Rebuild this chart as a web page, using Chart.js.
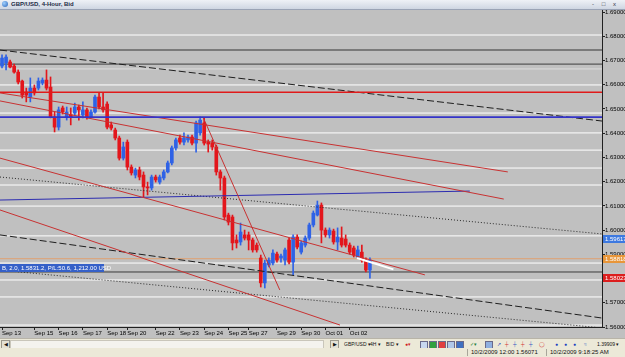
<!DOCTYPE html>
<html>
<head>
<meta charset="utf-8">
<script src="https://cdn.jsdelivr.net/npm/chart.js@4.4.0/dist/chart.umd.min.js"></script>
<style>
  html, body { margin:0; padding:0; width:625px; height:357px; overflow:hidden; background:#d4d0c8;
    font-family:"Liberation Sans", Arial, sans-serif; }
  #title { position:absolute; left:0; top:0; width:625px; height:9px;
    background:linear-gradient(#eef1f6,#cfd6e2); border-bottom:1px solid #9aa3b5;
    font-size:6px; line-height:9px; color:#1b2a44; font-weight:bold; }
  #title .ico { position:absolute; left:2px; top:1px; width:6px; height:6px; border-radius:3px;
    background:radial-gradient(circle at 35% 35%, #9fd0ff, #2a64b8); }
  #title .txt { position:absolute; left:11px; top:0; }
  #title .btns { position:absolute; right:6px; top:0; font-weight:normal; color:#334; letter-spacing:3px; }
  #wrap { position:absolute; left:0; top:10px; width:625px; height:328px; }
  #toolbar { position:absolute; left:0; top:338px; width:625px; height:10px; background:#ece9d8;
    border-top:1px solid #b8b4a8; font-size:5px; line-height:10px; color:#111; }
  #toolbar span { position:absolute; top:0; }
  .track { position:absolute; left:10px; top:1px; width:312px; height:7px; background:#f4f3ee; border:1px solid #c9c6ba; }
  .sbtn { position:absolute; top:1px; width:7px; height:7px; background:#e4e1d4; border:1px solid #9c998c; font-size:5px; line-height:7px; text-align:center; }
  .ic { position:absolute; top:2px; width:6px; height:6px; border:1px solid #6a6a8a; }
  #status { position:absolute; left:0; top:348px; width:625px; height:9px; background:#ece9d8;
    font-size:6px; line-height:9px; color:#111; }
  #status span { position:absolute; top:0; }
  .sep { position:absolute; top:1px; width:1px; height:7px; background:#a9a69a; }
</style>
</head>
<body>
<div id="title"><div class="ico"></div><span class="txt">GBP/USD, 4-Hour, Bid</span><span class="btns">- &#9633; x</span></div>
<div id="wrap"><canvas id="chart" width="625" height="328"></canvas></div>
<div id="toolbar">
  <div class="sbtn" style="left:1px">&#9664;</div>
  <div class="track"></div>
  <div class="sbtn" style="left:330px">&#9654;</div>
  <span style="left:344px">GBP/USD &#9662;</span>
  <span style="left:370px">4H &#9662;</span>
  <span style="left:386px">BID &#9662;</span>
  <span style="left:405px;color:#d02020">&#9679;&#9662;</span>
  <div class="ic" style="left:420px;background:#c8d8f0"></div>
  <div class="ic" style="left:429px;background:#30a040"></div>
  <div class="ic" style="left:438px;background:#e04040"></div>
  <div class="ic" style="left:447px;background:#b0c8e8"></div>
  <div class="ic" style="left:456px;background:#4070c0"></div>
  <span style="left:470px;color:#208040">&#10003;&#9662;</span>
  <div class="ic" style="left:485px;background:#90b0e0"></div>
  <span style="left:497px;color:#3050c0">&#8599;</span>
  <span style="left:505px;color:#d03030">&#9532;</span>
  <span style="left:513px;color:#3050c0">&#9532;</span>
  <span style="left:521px;color:#d03030">&#9532;</span>
  <span style="left:529px;color:#3050c0">&#9532;</span>
  <span style="left:539px;color:#d03030">&#9711;</span>
  <span style="left:555px;color:#2040c0">&#9679;</span>
  <span style="left:564px;color:#2040c0">&#9679;</span>
  <span style="left:573px;color:#2040c0">&#9679;</span>
  <span style="left:584px;color:#3060c0">&#8776;</span>
  <span style="left:597px">1.39909 &#9662;</span>
</div>
<div id="status">
  <div class="sep" style="left:467px"></div>
  <span style="left:471px">10/2/2009 12:00 1.56071</span>
  <div class="sep" style="left:546px"></div>
  <span style="left:550px">10/2/2009 9:18:25 AM</span>
</div>
<script>
// ---- candle data (GBP/USD 4H, Sep 13 - Oct 02 2009) ----
const opens  = [1.6677,1.6690,1.6694,1.6677,1.6652,1.6615,1.6570,1.6549,1.6586,1.6586,
                1.6607,1.6619,1.6590,1.6467,1.6425,1.6504,1.6467,1.6475,1.6483,1.6508,
                1.6475,1.6496,1.6467,1.6487,1.6549,1.6508,1.6520,1.6434,1.6413,1.6380,
                1.6297,1.6363,1.6260,1.6227,1.6248,1.6227,1.6178,1.6174,1.6219,1.6198,
                1.6215,1.6240,1.6277,1.6339,1.6380,1.6363,1.6372,1.6384,1.6359,1.6401,
                1.6442,1.6363,1.6359,1.6343,1.6240,1.6215,1.6062,1.6054,1.5959,1.5951,
                1.5980,1.5980,1.5959,1.5938,1.5885,1.5782,1.5856,1.5864,1.5901,1.5885,
                1.5876,1.5959,1.5868,1.5971,1.5909,1.5938,1.5967,1.6021,1.6062,1.6103,
                1.6000,1.5980,1.5996,1.5951,1.5967,1.5963,1.5938,1.5926,1.5889,1.5909,
                1.5876,1.5835];
const highs  = [1.6723,1.6723,1.6702,1.6685,1.6661,1.6619,1.6586,1.6628,1.6599,1.6628,
                1.6628,1.6661,1.6632,1.6487,1.6508,1.6512,1.6508,1.6504,1.6524,1.6516,
                1.6529,1.6504,1.6496,1.6557,1.6566,1.6566,1.6529,1.6446,1.6421,1.6388,
                1.6363,1.6372,1.6269,1.6256,1.6260,1.6240,1.6198,1.6227,1.6227,1.6227,
                1.6248,1.6285,1.6347,1.6380,1.6392,1.6401,1.6392,1.6392,1.6450,1.6467,
                1.6463,1.6372,1.6372,1.6351,1.6248,1.6223,1.6070,1.6062,1.5980,1.6029,
                1.6000,1.5992,1.5967,1.5947,1.5897,1.5876,1.5885,1.5918,1.5909,1.5901,
                1.5926,1.5967,1.5980,1.5980,1.5955,1.5976,1.6029,1.6079,1.6120,1.6112,
                1.6009,1.6009,1.6004,1.6009,1.6013,1.5980,1.5947,1.5934,1.5934,1.5938,
                1.5885,1.5885];
const lows   = [1.6669,1.6661,1.6669,1.6648,1.6603,1.6545,1.6529,1.6529,1.6557,1.6578,
                1.6599,1.6578,1.6463,1.6405,1.6413,1.6479,1.6454,1.6434,1.6475,1.6454,
                1.6463,1.6458,1.6463,1.6483,1.6500,1.6487,1.6417,1.6413,1.6372,1.6289,
                1.6289,1.6248,1.6227,1.6215,1.6207,1.6136,1.6145,1.6165,1.6198,1.6190,
                1.6207,1.6236,1.6269,1.6330,1.6355,1.6351,1.6363,1.6351,1.6322,1.6392,
                1.6351,1.6322,1.6330,1.6227,1.6165,1.6042,1.6021,1.5918,1.5926,1.5938,
                1.5959,1.5918,1.5909,1.5909,1.5765,1.5761,1.5848,1.5856,1.5868,1.5868,
                1.5856,1.5860,1.5815,1.5922,1.5901,1.5930,1.5959,1.6013,1.6058,1.5947,
                1.5971,1.5967,1.5942,1.5918,1.5930,1.5930,1.5901,1.5889,1.5885,1.5868,
                1.5827,1.5802];
const closes = [1.6710,1.6714,1.6673,1.6652,1.6611,1.6557,1.6557,1.6586,1.6566,1.6615,
                1.6619,1.6586,1.6467,1.6425,1.6496,1.6487,1.6487,1.6467,1.6508,1.6496,
                1.6496,1.6467,1.6487,1.6549,1.6508,1.6496,1.6425,1.6421,1.6380,1.6297,
                1.6343,1.6260,1.6236,1.6248,1.6219,1.6178,1.6174,1.6219,1.6207,1.6219,
                1.6240,1.6277,1.6339,1.6372,1.6363,1.6380,1.6384,1.6359,1.6442,1.6454,
                1.6359,1.6355,1.6343,1.6240,1.6215,1.6054,1.6033,1.5947,1.5947,1.5992,
                1.5967,1.5959,1.5918,1.5918,1.5782,1.5864,1.5876,1.5905,1.5876,1.5893,
                1.5918,1.5868,1.5971,1.5930,1.5947,1.5967,1.6021,1.6070,1.6103,1.6000,
                1.5980,1.6000,1.5951,1.5971,1.5938,1.5938,1.5909,1.5897,1.5918,1.5876,
                1.5835,1.5876];

// time axis: candle index of each date label
const dateTicks  = [0, 8, 14, 20, 26, 31, 38, 44, 50, 56, 61, 68, 74, 80, 86];
const dateLabels = ['Sep 13','Sep 15','Sep 16','Sep 17','Sep 18','Sep 20','Sep 22','Sep 23',
                    'Sep 24','Sep 25','Sep 27','Sep 29','Sep 30','Oct 01','Oct 02'];
const priceTicks = [1.56,1.57,1.58,1.59,1.60,1.61,1.62,1.63,1.64,1.65,1.66,1.67,1.68,1.69];

// horizontal objects
const whiteLevels = [1.6805,1.6599,1.6483,1.6401,1.6330,1.6256,1.6186,1.6099,1.5976,1.5864,1.5794,1.5724,1.5608];
const faintLevel  = 1.6665;
const greyLevel   = 1.6743;
const darkLevel   = 1.6685;
const redLevel    = 1.6569;
const blueLevel   = 1.6466;
const orderLevel  = 1.5827;
const bidLevel    = 1.58818;

// trendlines: [candle index, price] pairs
const dashTop   = [[-0.5,1.6743],[148.4,1.6450]];
const redLine1  = [[-0.5,1.6566],[125.1,1.6240]];
const redLine2  = [[-0.5,1.6533],[124.1,1.6128]];
const redSteep  = [[49.7,1.6467],[68.7,1.5753]];
const redLine3  = [[-0.5,1.6297],[104.6,1.5815]];
const redLine4  = [[-0.5,1.6083],[83.6,1.5608]];
const blueLine  = [[-0.5,1.6124],[115.7,1.6161]];
const dotLine1  = [[-0.5,1.6219],[148.4,1.5984]];
const dashLine2 = [[-0.5,1.5980],[148.4,1.5637]];
const dotLine2  = [[-0.5,1.5835],[148.4,1.5596]];
const whiteLine = [[87.8,1.5885],[96.8,1.5838]];

// right-axis price boxes
const priceBoxes = [
  { price:1.59617, text:'1.59617', color:'#3d79e0' },
  { price:bidLevel, text:'1.58818', color:'#e8963a' },
  { price:1.58023, text:'1.58023', color:'#dc1e1e' }
];
const orderText = 'B, 2.0, 1.5831.2, P/L:50.6, 1,212.00 USD';

const X_MIN = -0.5, X_MAX = 148.4;
const BULL = '#2f62e6', BEAR = '#e3161c';
const idx = opens.map((_, i) => i);
const colors = opens.map((o, i) => closes[i] >= o ? BULL : BEAR);

function seg(pts) { return pts.map(p => ({ x:p[0], y:p[1] })); }
function hline(v) { return [{ x:X_MIN, y:v }, { x:X_MAX, y:v }]; }
function lineDs(data, color, width, dash, order) {
  return { type:'line', data, borderColor:color, borderWidth:width, borderDash:dash || [],
    pointRadius:0, fill:false, tension:0, order: order == null ? 1 : order };
}

const datasets = [];
whiteLevels.forEach(v => datasets.push(lineDs(hline(v), '#ffffff', 1, null, 20)));
datasets.push(lineDs(hline(faintLevel), 'rgba(255,255,255,0.45)', 1, null, 20));
datasets.push(lineDs(hline(greyLevel), '#7a7a7a', 2, null, 19));
datasets.push(lineDs(hline(darkLevel), '#3c3c3c', 1, null, 19));
datasets.push(lineDs(hline(bidLevel), '#e0a070', 1, null, 19));
datasets.push(lineDs(hline(orderLevel), '#3a3a3a', 1, null, 19));

// wicks then bodies
datasets.push({ type:'bar', data: idx.map(i => ({ x:i, y:[lows[i], highs[i]] })),
  backgroundColor: colors, barThickness:1, grouped:false, order:10 });
datasets.push({ type:'bar', data: idx.map(i => ({ x:i, y:[opens[i], closes[i]] })),
  backgroundColor: colors, barThickness:3, minBarLength:1, grouped:false, order:9 });

datasets.push(lineDs(hline(redLevel), '#e01a1a', 1.6));
datasets.push(lineDs(hline(blueLevel), '#3434c8', 1.6));
datasets.push(lineDs(seg(dashTop), '#1e1e1e', 1, [7, 3]));
datasets.push(lineDs(seg(redLine1), '#c83232', 1));
datasets.push(lineDs(seg(redLine2), '#c83232', 1));
datasets.push(lineDs(seg(redSteep), '#c83232', 1));
datasets.push(lineDs(seg(redLine3), '#c83232', 1));
datasets.push(lineDs(seg(redLine4), '#c83232', 1));
datasets.push(lineDs(seg(blueLine), '#2c2cb0', 1));
datasets.push(lineDs(seg(dotLine1), '#2a2a2a', 1, [1, 2]));
datasets.push(lineDs(seg(dashLine2), '#1e1e1e', 1, [7, 3]));
datasets.push(lineDs(seg(dotLine2), '#2a2a2a', 1, [1, 2]));
datasets.push(lineDs(seg(whiteLine), '#ffffff', 2));

const bgPlugin = {
  id:'bg',
  beforeDraw(chart) {
    const c = chart.ctx;
    c.save(); c.fillStyle = '#c0c0c0'; c.fillRect(0, 0, chart.width, chart.height); c.restore();
  }
};

const labelsPlugin = {
  id:'labels',
  afterDraw(chart) {
    const c = chart.ctx, y = chart.scales.y, area = chart.chartArea;
    c.save();
    c.font = '6px "Liberation Sans", Arial, sans-serif';
    c.textBaseline = 'middle';
    priceBoxes.forEach(b => {
      const py = Math.round(y.getPixelForValue(b.price));
      c.fillStyle = b.color;
      c.fillRect(area.right + 1, py - 4, 23, 8);
      c.fillStyle = '#ffffff';
      c.textAlign = 'left';
      c.fillText(b.text, area.right + 3, py + 0.5);
    });
    // order label on the left
    const oy = Math.round(y.getPixelForValue(orderLevel));
    c.fillStyle = '#3560c8';
    c.fillRect(area.left, oy - 8, 104, 8);
    c.fillStyle = '#ffffff';
    c.fillText(orderText, area.left + 2, oy - 3.5);
    c.restore();
  }
};

function noPad(s) { s.paddingTop = 0; s.paddingBottom = 0; s.paddingLeft = 0; s.paddingRight = 0; }

new Chart(document.getElementById('chart'), {
  type:'bar',
  data:{ datasets },
  plugins:[bgPlugin, labelsPlugin],
  options:{
    responsive:false,
    devicePixelRatio:1,
    animation:false,
    layout:{ padding:0 },
    plugins:{ legend:{ display:false }, tooltip:{ enabled:false } },
    scales:{
      x:{
        type:'linear', min:X_MIN, max:X_MAX, offset:false,
        grid:{ display:true, drawOnChartArea:false, drawTicks:true, tickLength:3, color:'#202020', offset:false },
        border:{ display:true, color:'#202020' },
        afterBuildTicks(s) { s.ticks = dateTicks.map(v => ({ value:v })); },
        afterFit(s) { s.height = 11; noPad(s); },
        ticks:{
          autoSkip:false, maxRotation:0, align:'start', padding:0, color:'#000',
          font:{ size:6, family:'"Liberation Sans", Arial, sans-serif' },
          callback(v) { const k = dateTicks.indexOf(v); return k >= 0 ? dateLabels[k] : ''; }
        }
      },
      y:{
        type:'linear', position:'right', min:1.56, max:1.69083,
        grid:{ display:true, drawOnChartArea:false, drawTicks:true, tickLength:3, color:'#202020' },
        border:{ display:true, color:'#202020' },
        afterBuildTicks(s) { s.ticks = priceTicks.map(v => ({ value:v })); },
        afterFit(s) { s.width = 23; noPad(s); },
        ticks:{
          padding:0, color:'#000',
          font:{ size:6, family:'"Liberation Sans", Arial, sans-serif' },
          callback(v) { return v.toFixed(5); }
        }
      }
    }
  }
});
</script>
</body>
</html>
